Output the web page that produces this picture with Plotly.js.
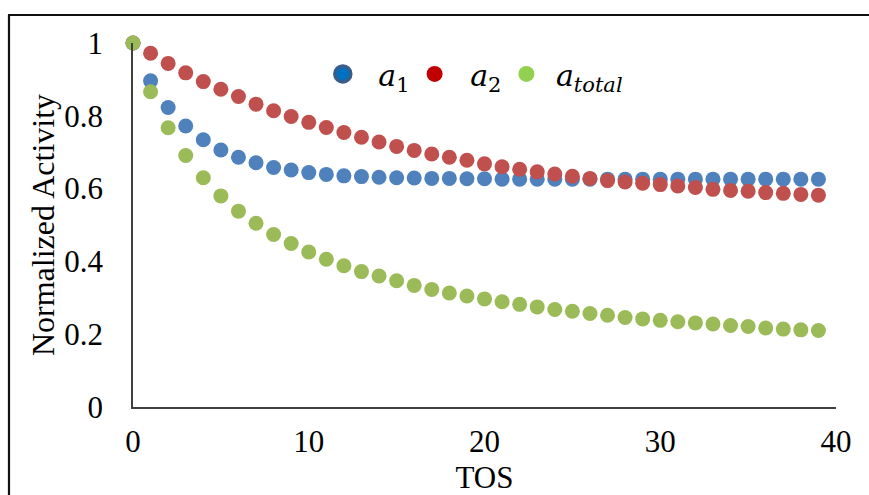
<!DOCTYPE html>
<html>
<head>
<meta charset="utf-8">
<script src="https://cdn.plot.ly/plotly-3.0.1.min.js"></script>
<style>
  html, body { margin: 0; padding: 0; background: #ffffff; }
  #chart { width: 869px; height: 495px; }
</style>
</head>
<body>
<div id="chart"></div>
<script>
// Time on stream (TOS) and normalized activities
const tos = [0, 1, 2, 3, 4, 5, 6, 7, 8, 9,
             10, 11, 12, 13, 14, 15, 16, 17, 18, 19,
             20, 21, 22, 23, 24, 25, 26, 27, 28, 29,
             30, 31, 32, 33, 34, 35, 36, 37, 38, 39];

const a1 = [1.000, 0.896, 0.823, 0.772, 0.734, 0.706, 0.686, 0.671, 0.658, 0.651,
            0.644, 0.639, 0.635, 0.633, 0.631, 0.630, 0.629, 0.628, 0.628, 0.627,
            0.627, 0.626, 0.626, 0.626, 0.626, 0.626, 0.626, 0.626, 0.626, 0.626,
            0.626, 0.626, 0.626, 0.626, 0.626, 0.626, 0.626, 0.626, 0.626, 0.626];

const a2 = [1.000, 0.972, 0.944, 0.918, 0.894, 0.873, 0.853, 0.832, 0.814, 0.798,
            0.782, 0.768, 0.754, 0.741, 0.728, 0.716, 0.705, 0.695, 0.686, 0.678,
            0.668, 0.660, 0.653, 0.646, 0.640, 0.634, 0.628, 0.622, 0.618, 0.615,
            0.611, 0.607, 0.603, 0.598, 0.595, 0.593, 0.589, 0.587, 0.584, 0.582];

const aTotal = [1.000, 0.866, 0.767, 0.691, 0.630, 0.580, 0.538, 0.505, 0.474, 0.449,
                0.426, 0.406, 0.388, 0.372, 0.360, 0.347, 0.334, 0.323, 0.313, 0.305,
                0.297, 0.289, 0.282, 0.275, 0.268, 0.263, 0.257, 0.252, 0.246, 0.242,
                0.238, 0.234, 0.231, 0.228, 0.224, 0.221, 0.217, 0.214, 0.212, 0.210];

const xTicks = [0, 10, 20, 30, 40];
const yTicks = [0, 0.2, 0.4, 0.6, 0.8, 1];
const yTickText = ['0', '0.2', '0.4', '0.6', '0.8', '1'];

const legendNames = [
  '\u00a0\u2009<i>a</i><sub>1</sub>',
  '\u00a0\u2009<i>a</i><sub>2</sub>',
  '\u00a0<i>a<sub>total</sub></i>'
];

const serif = '"Liberation Serif", "Times New Roman", serif';

function dots(y, color) {
  return {
    x: tos, y: y, type: 'scatter', mode: 'markers',
    cliponaxis: false, showlegend: false, hoverinfo: 'x+y',
    marker: { size: 15, color: color, line: { width: 0 } }
  };
}

// legend keys
function key(name, color, lineColor, lineWidth) {
  return {
    x: [null], y: [null], type: 'scatter', mode: 'markers', name: name,
    showlegend: true,
    marker: { size: 16, color: color, line: { color: lineColor, width: lineWidth } }
  };
}

const data = [
  dots(a1, '#4F81BD'),
  dots(a2, '#C0504D'),
  dots(aTotal, '#9BBB59'),
  key(legendNames[0], '#0070C0', '#385D8A', 3.5),
  key(legendNames[1], '#C00000', '#C00000', 0),
  key(legendNames[2], '#92D050', '#92D050', 0)
];

const layout = {
  width: 869, height: 495,
  margin: { l: 133, r: 33, t: 43, b: 88 },
  paper_bgcolor: '#ffffff', plot_bgcolor: '#ffffff',
  font: { family: serif, color: '#000000', size: 31 },
  showlegend: true,
  legend: {
    orientation: 'h', x: 0.27, y: 0.915, xanchor: 'left', yanchor: 'middle',
    bgcolor: 'rgba(0,0,0,0)', borderwidth: 0,
    font: { family: '"DejaVu Serif", serif', size: 30, color: '#000000' },
    itemclick: false, itemdoubleclick: false
  },
  xaxis: {
    range: [0, 40], tickvals: xTicks, ticktext: xTicks.map(String),
    showgrid: false, zeroline: false, showline: true,
    linecolor: '#404040', linewidth: 1.5, ticks: '',
    ticklabelstandoff: 6,
    tickfont: { family: serif, size: 31, color: '#000000' },
    title: { text: 'TOS', font: { family: serif, size: 31, color: '#000000' }, standoff: 10 },
    automargin: false, fixedrange: true
  },
  yaxis: {
    range: [0, 1], tickvals: yTicks, ticktext: yTickText,
    showgrid: false, zeroline: false, showline: true,
    linecolor: '#404040', linewidth: 1.5, ticks: '',
    ticklabelstandoff: 22,
    tickfont: { family: serif, size: 31, color: '#000000' },
    title: { text: 'Normalized Activity', font: { family: serif, size: 32, color: '#000000' }, standoff: 0 },
    automargin: false, fixedrange: true
  },
  shapes: [
    { type: 'line', xref: 'paper', yref: 'paper',
      x0: -0.1764, x1: -0.1764, y0: -0.30, y1: 1.0769,
      line: { color: '#111111', width: 2.2 } },
    { type: 'line', xref: 'paper', yref: 'paper',
      x0: -0.1778, x1: 1.10, y0: 1.0769, y1: 1.0769,
      line: { color: '#111111', width: 2.2 } }
  ]
};

Plotly.newPlot('chart', data, layout, { displayModeBar: false });
</script>
</body>
</html>
